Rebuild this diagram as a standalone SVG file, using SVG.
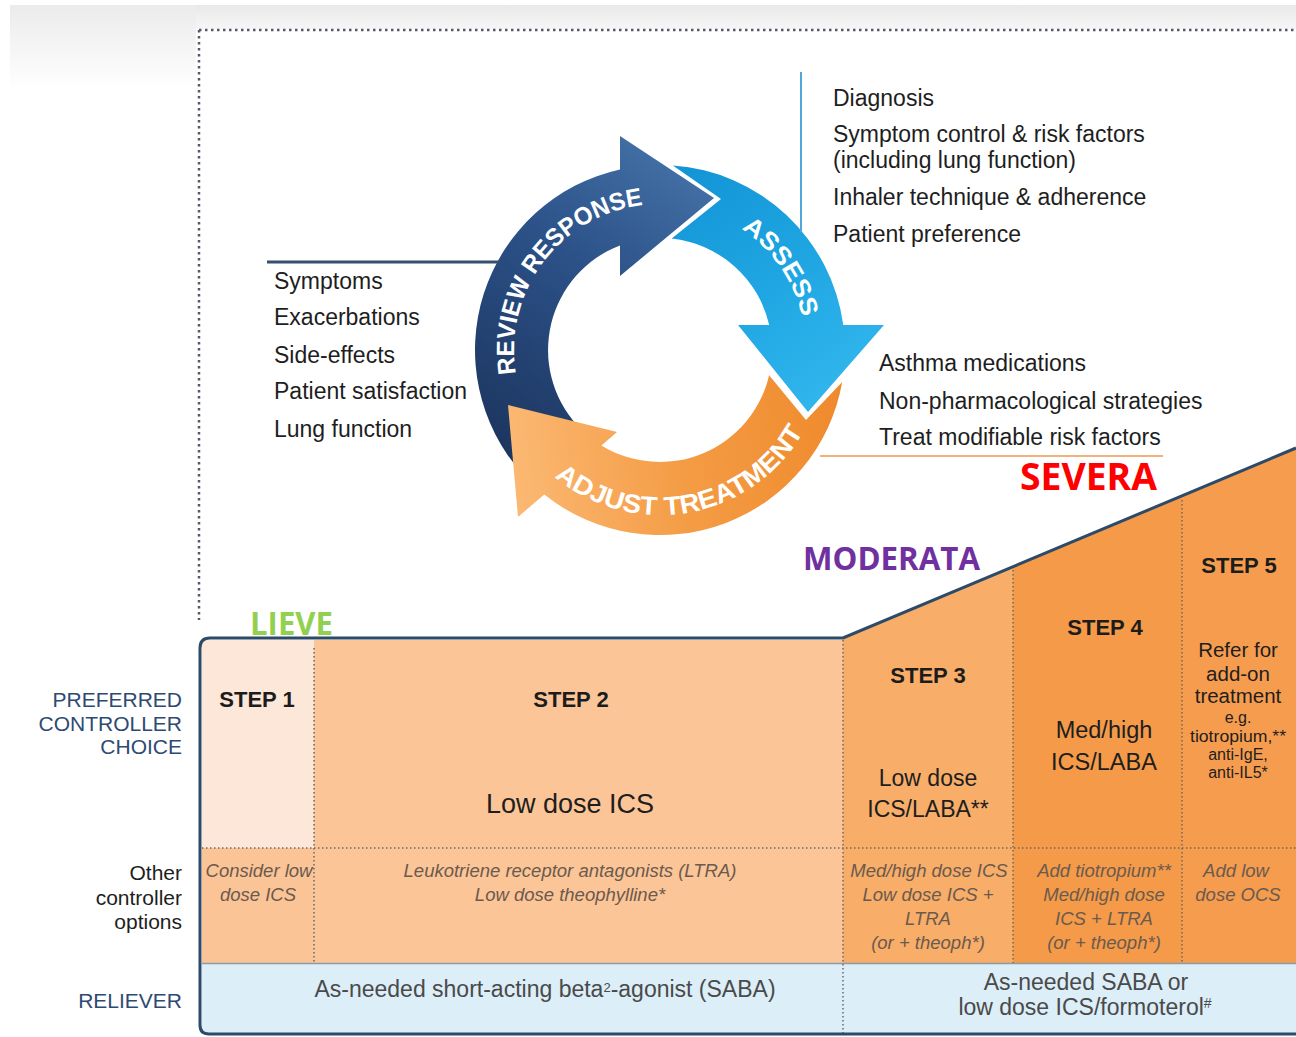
<svg xmlns="http://www.w3.org/2000/svg" width="1296" height="1037" viewBox="0 0 1296 1037">
<style>
.t{font-family:"Liberation Sans",Arial,sans-serif;fill:#1e1e1e}
.list{font-size:23px}
.lab{font-size:21px;text-anchor:end}
.blue{fill:#2e4a72}
.hd{font-size:22px;font-weight:bold;text-anchor:middle;fill:#1c1c1c}
.mid{text-anchor:middle}
.it{font-size:18.5px;font-style:italic;fill:#6b5a4e;text-anchor:middle}
.rel{font-size:23px;fill:#4a4a4a;text-anchor:middle}
.arc{font-family:"Liberation Sans",Arial,sans-serif;font-weight:bold;fill:#ffffff}
.cl{font-family:"Open Sans","Liberation Sans",sans-serif;font-weight:bold}
.dot{fill:none;stroke:#6a6a6a;stroke-width:1.5;stroke-dasharray:1.5 2.5}
.bdot{fill:none;stroke:#555a66;stroke-width:2.5;stroke-dasharray:2.5 3.5}
</style>
<defs>
<linearGradient id="gTop" x1="0" y1="0" x2="0" y2="1"><stop offset="0" stop-color="#e9e9e9"/><stop offset="1" stop-color="#f6f6f6"/></linearGradient>
<linearGradient id="gLeft" x1="0" y1="0" x2="0" y2="1"><stop offset="0" stop-color="#ebebeb"/><stop offset="1" stop-color="#ffffff"/></linearGradient>
<linearGradient id="gRev" gradientUnits="userSpaceOnUse" x1="500" y1="470" x2="710" y2="170"><stop offset="0" stop-color="#1b335c"/><stop offset="0.6" stop-color="#2c5289"/><stop offset="1" stop-color="#4472a8"/></linearGradient>
<linearGradient id="gAss" gradientUnits="userSpaceOnUse" x1="680" y1="170" x2="840" y2="410"><stop offset="0" stop-color="#1394d6"/><stop offset="0.5" stop-color="#1fa6e2"/><stop offset="1" stop-color="#33b7ee"/></linearGradient>
<linearGradient id="gAdj" gradientUnits="userSpaceOnUse" x1="840" y1="390" x2="510" y2="430"><stop offset="0" stop-color="#ef8a2c"/><stop offset="0.5" stop-color="#f49c45"/><stop offset="1" stop-color="#fbb872"/></linearGradient>
<path id="pRev" d="M533.6,423 A146,146 0 0 1 695.3,208.3"/>
<path id="pAss" d="M709.9,212.8 A146,146 0 0 1 806,352.5"/>
<path id="pAdj" d="M517.1,432.5 A165,165 0 0 0 822.8,376.9"/>
</defs>

<rect x="0" y="0" width="1296" height="1037" fill="#ffffff"/>
<rect x="10" y="5" width="1286" height="24" fill="url(#gTop)"/>
<rect x="10" y="5" width="186" height="85" fill="url(#gLeft)"/>
<rect x="197" y="29" width="1099" height="600" fill="#ffffff"/>

<g id="frame-dots">
<path class="bdot" d="M199,30 H1296 M199,30 V620"/>
</g>

<g id="cycle">
<g id="review-response">
<path fill="url(#gRev)" d="M522.5,473.8 A185,185 0 0 1 620,169.4 L620,136 L714,198 L620,276 L620,245.4 A112,112 0 0 0 576.8,424.9 Z"/>
<text class="arc" font-size="25"><textPath href="#pRev" startOffset="50%" text-anchor="middle" textLength="236" lengthAdjust="spacingAndGlyphs">REVIEW RESPONSE</textPath></text>
</g>
<g id="assess">
<path fill="url(#gAss)" d="M672.9,165.5 A185,185 0 0 1 843.3,325 L884,325 L808,412 L738,325 L769.2,325 A112,112 0 0 0 671.7,238.6 L721,199 Z"/>
<text class="arc" font-size="25"><textPath href="#pAss" startOffset="50%" text-anchor="middle" textLength="110" lengthAdjust="spacingAndGlyphs">ASSESS</textPath></text>
</g>
<g id="adjust-treatment">
<path fill="url(#gAdj)" d="M842.2,382.1 A185,185 0 0 1 544.3,494.4 L518,517 L508,405 L617,432 L601.4,445.4 A112,112 0 0 0 769.1,375.2 L806,420 Z"/>
<text class="arc" font-size="26"><textPath href="#pAdj" startOffset="50%" text-anchor="middle" textLength="288" lengthAdjust="spacingAndGlyphs">ADJUST TREATMENT</textPath></text>
</g>
</g>

<g id="connectors">
<line x1="801" y1="72" x2="801" y2="232" stroke="#4ea6dc" stroke-width="2"/>
<line x1="267" y1="262" x2="500" y2="262" stroke="#34506c" stroke-width="3"/>
<line x1="820" y1="456" x2="1163" y2="456" stroke="#f2b27c" stroke-width="2"/>
</g>

<g id="assess-list">
<text class="t list" x="833" y="106">Diagnosis</text>
<text class="t list" x="833" y="142">Symptom control &amp; risk factors</text>
<text class="t list" x="833" y="168">(including lung function)</text>
<text class="t list" x="833" y="205">Inhaler technique &amp; adherence</text>
<text class="t list" x="833" y="242">Patient preference</text>
</g>
<g id="review-list">
<text class="t list" x="274" y="289">Symptoms</text>
<text class="t list" x="274" y="325">Exacerbations</text>
<text class="t list" x="274" y="363">Side-effects</text>
<text class="t list" x="274" y="399">Patient satisfaction</text>
<text class="t list" x="274" y="437">Lung function</text>
</g>
<g id="adjust-list">
<text class="t list" x="879" y="371">Asthma medications</text>
<text class="t list" x="879" y="409">Non-pharmacological strategies</text>
<text class="t list" x="879" y="445">Treat modifiable risk factors</text>
</g>

<g id="table">
<rect x="202" y="640" width="112" height="208" fill="#fde7d9"/>
<rect x="202" y="848" width="112" height="115" fill="#fbc497"/>
<rect x="314" y="640" width="529" height="323" fill="#fcc597"/>
<polygon points="843,638 1013,566.7 1013,963 843,963" fill="#f8ad69"/>
<polygon points="1013,566.7 1182,495.8 1182,963 1013,963" fill="#f59a49"/>
<polygon points="1182,495.8 1296,448 1296,963 1182,963" fill="#f69c4e"/>
<rect x="202" y="963" width="1094" height="70" fill="#dceef8"/>
<line x1="202" y1="963.5" x2="1296" y2="963.5" stroke="#8c9aa8" stroke-width="1.5"/>
<path class="dot" d="M202,848 H1296 M314,648 V963 M843,640 V1033 M1013,570 V963 M1182,500 V963"/>
<path d="M1296,448 L843,638 L210,638 Q200,638 200,648 L200,1025 Q200,1034 209,1034 L1296,1034" fill="none" stroke="#2d4a68" stroke-width="3"/>
</g>

<g id="row-labels">
<text class="t lab blue" x="182" y="707">PREFERRED</text>
<text class="t lab blue" x="182" y="731">CONTROLLER</text>
<text class="t lab blue" x="182" y="754">CHOICE</text>
<text class="t lab" x="182" y="880">Other</text>
<text class="t lab" x="182" y="905">controller</text>
<text class="t lab" x="182" y="929">options</text>
<text class="t lab blue" x="182" y="1008">RELIEVER</text>
</g>

<g id="step1">
<text class="t hd" x="257" y="707">STEP 1</text>
<text class="t it" x="259" y="877">Consider low</text>
<text class="t it" x="258" y="901">dose ICS</text>
</g>
<g id="step2">
<text class="t hd" x="571" y="707">STEP 2</text>
<text class="t mid" x="570" y="813" font-size="27">Low dose ICS</text>
<text class="t it" x="570" y="877">Leukotriene receptor antagonists (LTRA)</text>
<text class="t it" x="570" y="901">Low dose theophylline*</text>
</g>
<g id="step3">
<text class="t hd" x="928" y="683">STEP 3</text>
<text class="t mid" x="928" y="786" font-size="23">Low dose</text>
<text class="t mid" x="928" y="817" font-size="23">ICS/LABA**</text>
<text class="t it" x="929" y="877">Med/high dose ICS</text>
<text class="t it" x="928" y="901">Low dose ICS +</text>
<text class="t it" x="928" y="925">LTRA</text>
<text class="t it" x="928" y="949">(or + theoph*)</text>
</g>
<g id="step4">
<text class="t hd" x="1105" y="635">STEP 4</text>
<text class="t mid" x="1104" y="738" font-size="23.5">Med/high</text>
<text class="t mid" x="1104" y="770" font-size="23.5">ICS/LABA</text>
<text class="t it" x="1104" y="877">Add tiotropium**</text>
<text class="t it" x="1104" y="901">Med/high dose</text>
<text class="t it" x="1104" y="925">ICS + LTRA</text>
<text class="t it" x="1104" y="949">(or + theoph*)</text>
</g>
<g id="step5">
<text class="t hd" x="1239" y="573">STEP 5</text>
<text class="t mid" x="1238" y="657" font-size="20.5">Refer for</text>
<text class="t mid" x="1238" y="681" font-size="20.5">add-on</text>
<text class="t mid" x="1238" y="703" font-size="20.5">treatment</text>
<text class="t mid" x="1238" y="723" font-size="16">e.g.</text>
<text class="t mid" x="1238" y="742" font-size="16" textLength="96" lengthAdjust="spacingAndGlyphs">tiotropium,**</text>
<text class="t mid" x="1238" y="760" font-size="16">anti-IgE,</text>
<text class="t mid" x="1238" y="778" font-size="16">anti-IL5*</text>
<text class="t it" x="1236" y="877">Add low</text>
<text class="t it" x="1238" y="901">dose OCS</text>
</g>
<g id="reliever">
<text class="t rel" x="545" y="997">As-needed short-acting beta<tspan font-size="13" dy="-5">2</tspan><tspan dy="5">-agonist (SABA)</tspan></text>
<text class="t rel" x="1086" y="990">As-needed SABA or</text>
<text class="t rel" x="1085" y="1015">low dose ICS/formoterol<tspan font-size="14" dy="-7">#</tspan></text>
</g>

<g id="severity">
<text class="cl" x="250" y="635" font-size="32" fill="#92d050" textLength="83" lengthAdjust="spacingAndGlyphs">LIEVE</text>
<text class="cl" x="803" y="570" font-size="32" fill="#7030a0" textLength="177" lengthAdjust="spacingAndGlyphs">MODERATA</text>
<text class="cl" x="1020" y="490" font-size="37" fill="#ff0000" textLength="137" lengthAdjust="spacingAndGlyphs">SEVERA</text>
</g>
</svg>
